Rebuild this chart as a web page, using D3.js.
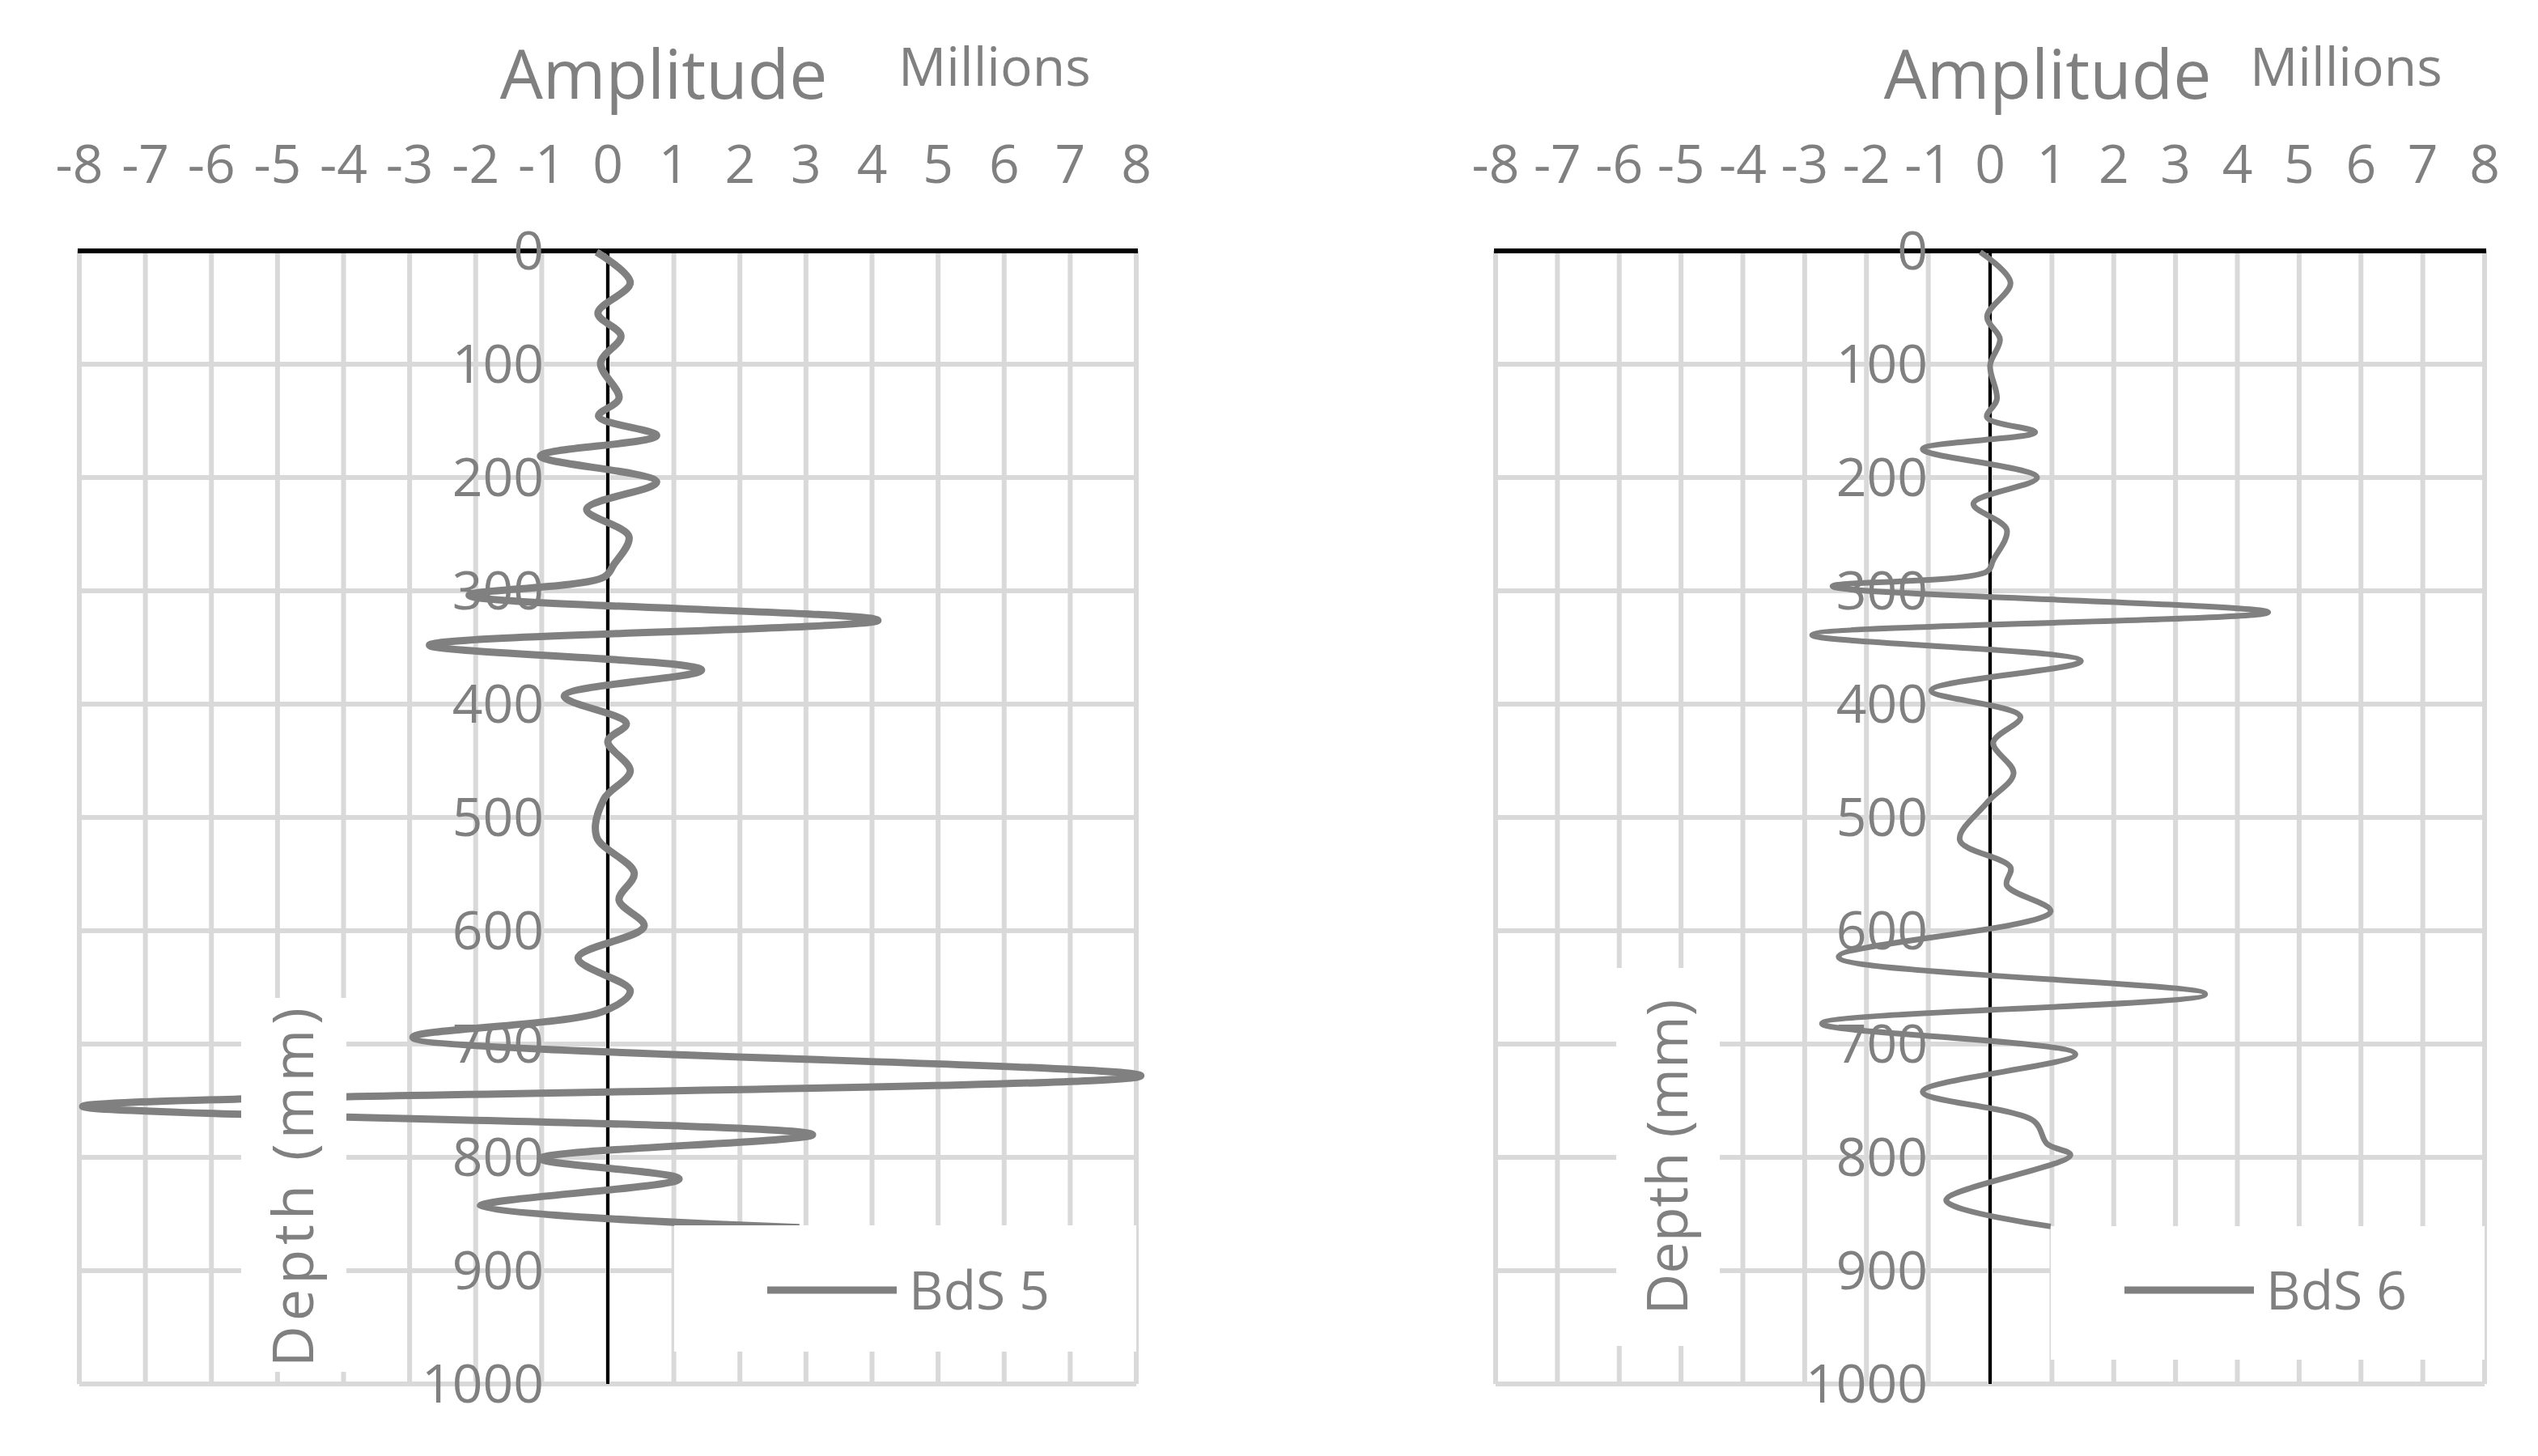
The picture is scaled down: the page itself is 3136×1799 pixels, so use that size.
<!DOCTYPE html>
<html>
<head>
<meta charset="utf-8">
<script src="https://cdn.jsdelivr.net/npm/d3@7"></script>
<style>
  body { margin: 0; background: #fff; }
  text { font-family: "Open Sans", "Noto Sans", sans-serif; fill: #808080; }
</style>
</head>
<body>
<script>
// amplitude (millions) against depth (mm)
const depth5 = [1, 28, 55, 75, 99, 130, 146, 163, 181, 204, 228, 252, 277, 288, 304, 326, 348, 370, 393, 417, 433, 459, 484, 517, 549, 573, 596, 624, 653, 671, 694, 728, 755, 780, 801, 819, 843, 862];
const amp5 = [-0.17, 0.34, -0.15, 0.2, -0.11, 0.17, -0.14, 0.74, -1.02, 0.74, -0.32, 0.32, 0.09, -0.06, -2.1, 4.09, -2.7, 1.42, -0.66, 0.28, 0, 0.34, -0.06, -0.17, 0.4, 0.17, 0.55, -0.45, 0.34, -0.06, -2.95, 8.07, -7.95, 3.1, -1.02, 1.08, -1.93, 2.9];
const depth6 = [1, 28, 58, 78, 101, 131, 147, 160, 175, 200, 223, 246, 273, 283, 296, 319, 339, 362, 388, 411, 434, 461, 487, 520, 544, 560, 583, 623, 656, 682, 709, 742, 768, 788, 798, 838, 861];
const amp6 = [-0.16, 0.33, -0.05, 0.16, 0, 0.11, -0.05, 0.73, -1.09, 0.76, -0.27, 0.27, 0.05, -0.05, -2.55, 4.5, -2.88, 1.47, -0.95, 0.49, 0.05, 0.38, -0.05, -0.49, 0.33, 0.27, 0.98, -2.45, 3.48, -2.72, 1.38, -1.09, 0.71, 0.92, 1.3, -0.71, 0.98];
const ampTicks = d3.range(-8, 9, 1);
const depthTicks = d3.range(0, 1001, 100);

const W = 3136, H = 1799;
const svg = d3.select('body').append('svg').attr('width', W).attr('height', H);

function panel(o) {
  const x = d3.scaleLinear().domain([-8, 8]).range([o.x0, o.x1]);
  const y = d3.scaleLinear().domain([0, 1000]).range([310, 1710]);
  const g = svg.append('g');

  // grid
  g.selectAll('.vg').data(ampTicks).enter().append('line')
    .attr('x1', d => x(d)).attr('x2', d => x(d)).attr('y1', y(0)).attr('y2', y(1000))
    .attr('stroke', '#d9d9d9').attr('stroke-width', 6);
  g.selectAll('.hg').data(depthTicks).enter().append('line')
    .attr('x1', x(-8)).attr('x2', x(8)).attr('y1', d => y(d)).attr('y2', d => y(d))
    .attr('stroke', '#d9d9d9').attr('stroke-width', 6);

  // zero line and top axis
  g.append('line').attr('x1', x(0)).attr('x2', x(0)).attr('y1', y(0)).attr('y2', y(1000))
    .attr('stroke', '#000').attr('stroke-width', 4);
  g.append('line').attr('x1', x(-8) - 2).attr('x2', x(8) + 2).attr('y1', y(0)).attr('y2', y(0))
    .attr('stroke', '#000').attr('stroke-width', 6);

  // series
  const pts = o.depth.map((d, i) => [o.amp[i], d]);
  const line = d3.line().x(d => x(d[0])).y(d => y(d[1])).curve(d3.curveCatmullRom.alpha(0.5));
  g.append('path').datum(pts).attr('d', line)
    .attr('fill', 'none').attr('stroke', '#808080').attr('stroke-width', o.lw);

  // white boxes (axis title and legend)
  g.append('rect').attr('x', o.lab[0]).attr('y', o.lab[1]).attr('width', o.lab[2]).attr('height', o.lab[3]).attr('fill', '#fff');
  g.append('rect').attr('x', o.leg[0]).attr('y', o.leg[1]).attr('width', o.leg[2]).attr('height', o.leg[3]).attr('fill', '#fff');

  // tick labels
  g.selectAll('.at').data(ampTicks).enter().append('text')
    .attr('x', d => x(d)).attr('y', 226).attr('text-anchor', 'middle')
    .attr('font-size', 66).attr('font-family', o.ff).text(d => d);
  g.selectAll('.dt').data(depthTicks).enter().append('text')
    .attr('x', o.dx).attr('y', d => y(d) + 23).attr('text-anchor', 'end')
    .attr('font-size', 66).attr('font-family', o.ff).text(d => d);

  // titles
  g.append('text').attr('x', o.tx).attr('y', 122).attr('text-anchor', 'middle')
    .attr('font-size', 84).text('Amplitude');
  g.append('text').attr('x', o.mx).attr('y', 106).attr('font-size', 66).text('Millions');
  g.append('text').attr('transform', `translate(${o.lab[0] + o.lab[2] / 2 + 24},${o.lab[1] + o.lab[3] / 2}) rotate(-90)`)
    .attr('text-anchor', 'middle').attr('font-size', 70).attr('letter-spacing', o.ls).text('Depth (mm)');

  // legend
  g.append('line').attr('x1', o.lx).attr('x2', o.lx + 160).attr('y1', 1594).attr('y2', 1594)
    .attr('stroke', '#808080').attr('stroke-width', 9);
  g.append('text').attr('x', o.lx + 175).attr('y', 1618).attr('font-size', 66)
    .attr('font-family', o.ff).text(o.name);
}

panel({ x0: 98, x1: 1404, depth: depth5, amp: amp5, lw: 9, dx: 672, ff: '"Liberation Sans Narrow", "Open Sans", sans-serif', ls: 6,
  lab: [298, 1233, 130, 462], leg: [833, 1514, 571, 156], tx: 820, mx: 1110, lx: 948, name: 'BdS 5' });
panel({ x0: 1848, x1: 3070, depth: depth6, amp: amp6, lw: 7, dx: 2382, ff: '"Open Sans", sans-serif', ls: 0,
  lab: [1997, 1196, 128, 467], leg: [2534, 1515, 536, 165], tx: 2530, mx: 2780, lx: 2625, name: 'BdS 6' });
</script>
</body>
</html>
